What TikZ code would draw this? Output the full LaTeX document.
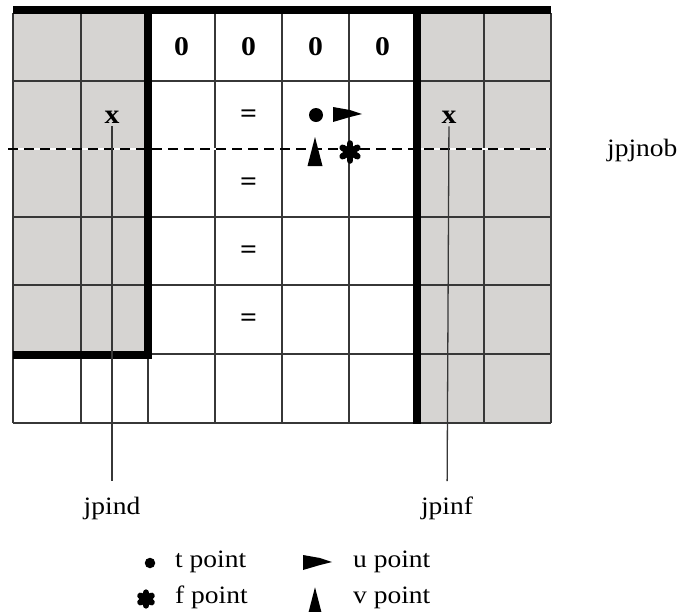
\documentclass[tikz,border=0pt]{standalone}
\usepackage{fontspec}
\setmainfont{Liberation Serif}[FakeStretch=1.1]
\usepackage{tikz}
\usetikzlibrary{positioning}
\definecolor{cellgray}{RGB}{214,212,210}
\definecolor{gridgray}{RGB}{55,55,55}
\tikzset{node distance=2cm, auto,
  cellval/.style={font=\fontsize{27}{30}\selectfont\bfseries, inner sep=3pt},
  lbl/.style={font=\fontsize{25}{28}\selectfont, inner sep=3pt},
  gridln/.style={gridgray, line width=1.3pt},
  wall/.style={line width=8pt},
  tpoint/.pic={\fill (0,0) circle (7);},
  upoint/.pic={\fill (-14,-7) -- (3,-4) -- (15,0) -- (3,3) -- (-14,8) -- cycle;},
  vpoint/.pic={\fill (0,-15) -- (7.5,14) -- (-7.5,14) -- cycle;},
  fpoint/.pic={\foreach \a in {90,30,150}
      \draw[line width=6.5pt, line cap=round] (\a:8.5) -- (\a+180:8.5);}
}

\begin{document}
\begin{tikzpicture}[x=1pt, y=-1pt]

             \useasboundingbox (0,0) rectangle (678,614);

             \fill[cellgray] (13,13) rectangle (148,354);
             \fill[cellgray] (416,13) rectangle (551,423);

             \foreach \x in {13,81,148,215,282,349,416,484,551}
               \draw[gridln] (\x,13) -- (\x,423);
             \foreach \y in {13,81,149,217,285,354,423}
               \draw[gridln] (13,\y) -- (551,\y);

             \coordinate (dashL) at (8,149);
             \coordinate (dashR) at (549,149);
             \draw[white, line width=1.6pt] (dashL) -- (dashR);
             \draw[black, line width=1.4pt, dash pattern=on 10pt off 6pt] (dashL) -- (dashR);

             \draw[wall] (13,10) -- (551,10);
             \draw[wall] (147.5,6) -- (147.5,355) -- (13,355);
             \draw[wall] (416.5,6) -- (416.5,424);

             \node[cellval] (z1) at (181.5,47) {0};
             \node[cellval] (z2) at (248.5,47) {0};
             \node[cellval] (z3) at (315.5,47) {0};
             \node[cellval] (z4) at (382.5,47) {0};

             \node[cellval] (eq1) at (248.5,116) {=};
             \node[cellval] (eq2) at (248.5,184) {=};
             \node[cellval] (eq3) at (248.5,252) {=};
             \node[cellval] (eq4) at (248.5,320) {=};

             \node[cellval] (xl) at (112,117) {x};
             \node[cellval] (xr) at (449,117) {x};

             \pic at (316,115) {tpoint};
             \pic at (347,114) {upoint};
             \pic at (315,152) {vpoint};
             \pic at (350,152) {fpoint};

             \node[lbl, anchor=base] (jpind) at (112,514) {jpind};
             \node[lbl, anchor=base] (jpinf) at (447,514) {jpinf};
             \node[lbl, anchor=base west] (jpjnob) at (604,156) {jpjnob};

             \draw[gridln, shorten >=12pt] (xl) -- (jpind);
             \draw[gridln, shorten >=12pt] (xr) -- (jpinf);

             \node[lbl, anchor=base west] (tlab) at (172,567) {t point};
             \node[lbl, anchor=base west] (flab) at (172,603) {f point};
             \node[lbl, anchor=base west] (ulab) at (350,567) {u point};
             \node[lbl, anchor=base west] (vlab) at (350,603) {v point};

             \pic[scale=0.75] at (150,563) {tpoint};
             \pic[scale=0.75] at (146,599) {fpoint};
             \pic at (317,562) {upoint};
             \pic[scale=0.85] at (315,600) {vpoint};
          \end{tikzpicture}
\end{document}
